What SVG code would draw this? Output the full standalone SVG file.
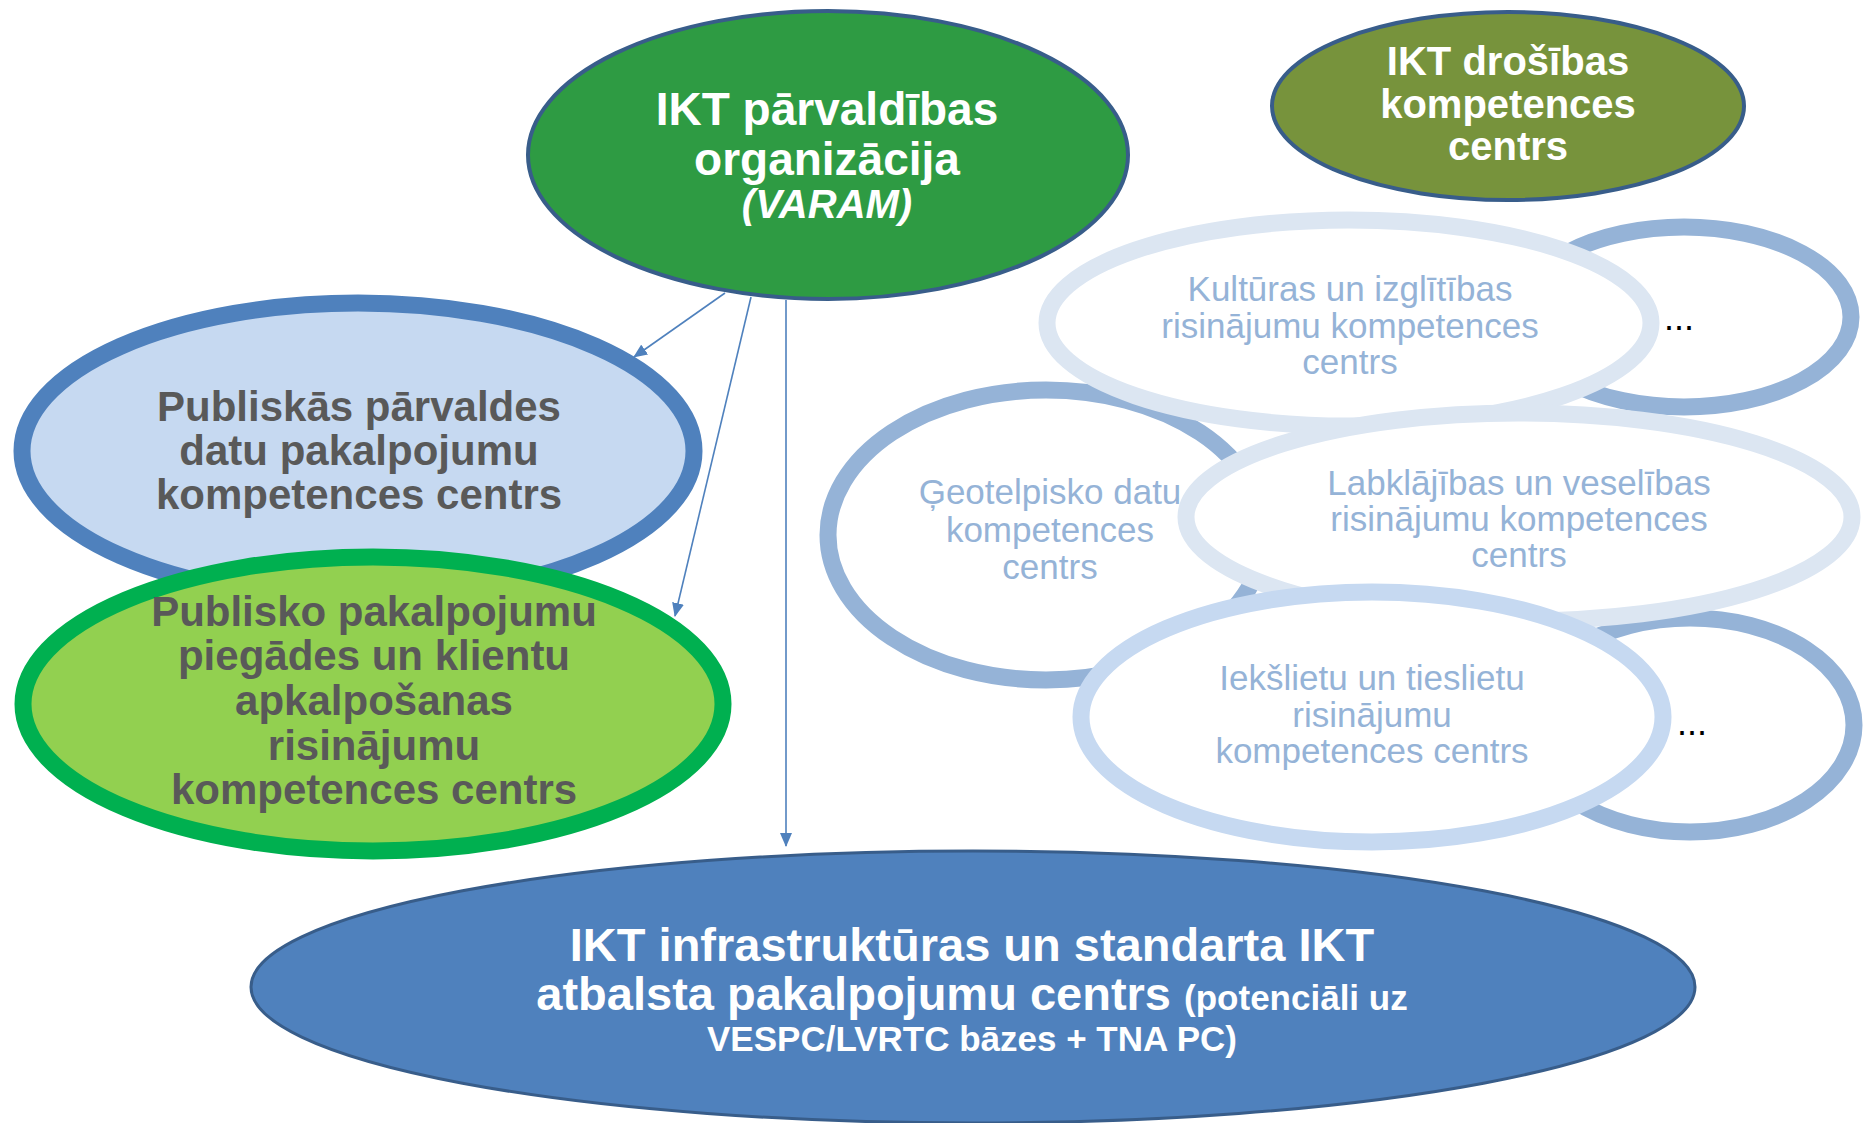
<svg xmlns="http://www.w3.org/2000/svg" width="1864" height="1123" viewBox="0 0 1864 1123">
<style>
.b{font-family:"Liberation Sans",Arial,sans-serif;font-weight:bold;text-anchor:middle}
.w{fill:#FFFFFF}
.g{fill:#595959}
.r{font-family:"Liberation Sans",Arial,sans-serif;font-size:35px;fill:#95B3D7;text-anchor:middle}
.dots{font-family:"Liberation Sans",Arial,sans-serif;font-size:36px;fill:#000000}
.cl{fill:#FFFFFF;stroke-width:17}
.dk{stroke:#95B3D7}
.lt{stroke:#DCE6F2}
.md{stroke:#C6D9F1}
.conn{stroke:#4F81BD;stroke-width:1.6;fill:none;marker-end:url(#ah)}
</style>
<defs>
<marker id="ah" markerUnits="userSpaceOnUse" markerWidth="14" markerHeight="12" viewBox="0 0 14 12" refX="13" refY="6" orient="auto">
<path d="M0,0 L14,6 L0,12 Z" fill="#4F81BD"/>
</marker>
</defs>
<rect width="1864" height="1123" fill="#FFFFFF"/>

<g id="node-varam">
<ellipse cx="828" cy="155" rx="300" ry="144" fill="#2E9B43" stroke="#385D8A" stroke-width="4"/>
<text class="b w" x="827" y="125" font-size="46">IKT pārvaldības</text>
<text class="b w" x="827" y="175" font-size="46">organizācija</text>
<text class="b w" x="827" y="218" font-size="40" font-style="italic">(VARAM)</text>
</g>

<g id="node-drosibas">
<ellipse cx="1508" cy="106" rx="236" ry="94" fill="#77933C" stroke="#385D8A" stroke-width="4"/>
<text class="b w" x="1508" y="75" font-size="40">IKT drošības</text>
<text class="b w" x="1508" y="118" font-size="40">kompetences</text>
<text class="b w" x="1508" y="160" font-size="40">centrs</text>
</g>

<g id="node-datu">
<ellipse cx="358" cy="451" rx="336" ry="148" fill="#C6D9F1" stroke="#4F81BD" stroke-width="17"/>
<text class="b g" x="359" y="421" font-size="42">Publiskās pārvaldes</text>
<text class="b g" x="359" y="465" font-size="42">datu pakalpojumu</text>
<text class="b g" x="359" y="509" font-size="42">kompetences centrs</text>
</g>

<g id="node-piegade">
<ellipse cx="373" cy="704" rx="350" ry="147" fill="#92D050" stroke="#00B050" stroke-width="17"/>
<text class="b g" x="374" y="626" font-size="42">Publisko pakalpojumu</text>
<text class="b g" x="374" y="670" font-size="42">piegādes un klientu</text>
<text class="b g" x="374" y="715" font-size="42">apkalpošanas</text>
<text class="b g" x="374" y="760" font-size="42">risinājumu</text>
<text class="b g" x="374" y="804" font-size="42">kompetences centrs</text>
</g>

<g id="node-geo">
<ellipse class="cl dk" cx="1046" cy="535" rx="218" ry="145"/>
<text class="r" x="1050" y="504">Ģeotelpisko datu</text>
<text class="r" x="1050" y="542">kompetences</text>
<text class="r" x="1050" y="579">centrs</text>
</g>

<g id="node-more-top">
<ellipse class="cl dk" cx="1684" cy="317" rx="167" ry="90"/>
<text class="dots" x="1664" y="330">...</text>
</g>

<g id="node-more-bottom">
<ellipse class="cl dk" cx="1690" cy="725" rx="164" ry="107"/>
<text class="dots" x="1677" y="735">...</text>
</g>

<g id="node-kultura">
<ellipse class="cl lt" cx="1349" cy="323" rx="302" ry="103"/>
<text class="r" x="1350" y="301">Kultūras un izglītības</text>
<text class="r" x="1350" y="338">risinājumu kompetences</text>
<text class="r" x="1350" y="374">centrs</text>
</g>

<g id="node-labklajiba">
<ellipse class="cl lt" cx="1519" cy="517" rx="333" ry="104"/>
<text class="r" x="1519" y="495">Labklājības un veselības</text>
<text class="r" x="1519" y="531">risinājumu kompetences</text>
<text class="r" x="1519" y="567">centrs</text>
</g>

<g id="node-ieksliet">
<ellipse class="cl md" cx="1372" cy="717" rx="291" ry="125"/>
<text class="r" x="1372" y="690">Iekšlietu un tieslietu</text>
<text class="r" x="1372" y="727">risinājumu</text>
<text class="r" x="1372" y="763">kompetences centrs</text>
</g>

<g id="node-infra">
<ellipse cx="973" cy="987" rx="722" ry="136" fill="#4F81BD" stroke="#385D8A" stroke-width="3"/>
<text class="b w" x="972" y="961" font-size="47">IKT infrastruktūras un standarta IKT</text>
<text class="b w" x="972" y="1010" font-size="47">atbalsta pakalpojumu centrs <tspan font-size="35">(potenciāli uz</tspan></text>
<text class="b w" x="972" y="1051" font-size="35">VESPC/LVRTC bāzes + TNA PC)</text>
</g>

<g id="connectors">
<line class="conn" x1="725" y1="293" x2="634" y2="357"/>
<line class="conn" x1="751" y1="297" x2="675" y2="616"/>
<line class="conn" x1="786" y1="300" x2="786" y2="846"/>
</g>
</svg>
